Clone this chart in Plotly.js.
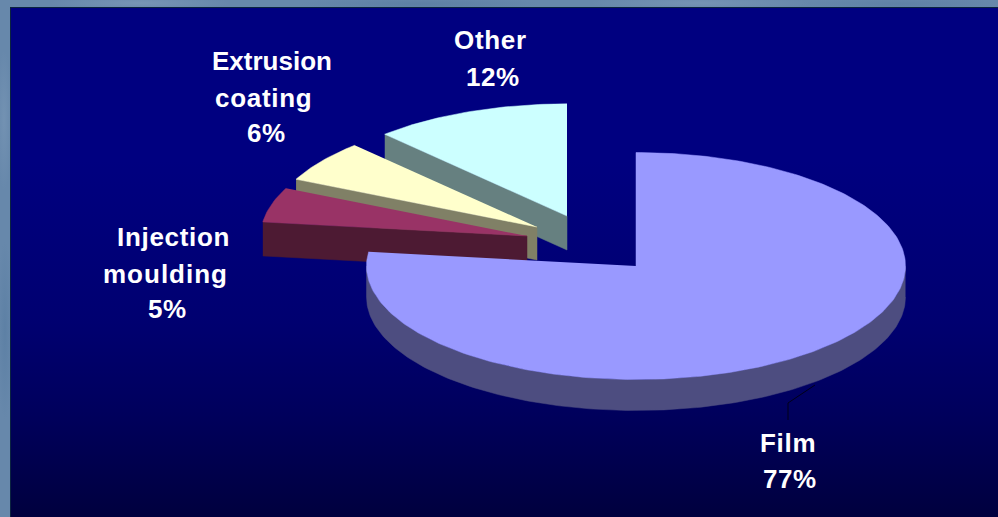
<!DOCTYPE html>
<html>
<head>
<meta charset="utf-8">
<script src="https://cdn.plot.ly/plotly-3.0.1.min.js"></script>
<style>
  html, body { margin: 0; padding: 0; width: 998px; height: 517px; overflow: hidden; }
  #slide {
    position: absolute; left: 0; top: 0; width: 998px; height: 517px;
    background:
      radial-gradient(ellipse 90px 8px at 140px 3px, rgba(150,175,200,.35), transparent),
      radial-gradient(ellipse 120px 7px at 420px 4px, rgba(70,110,150,.3), transparent),
      radial-gradient(ellipse 110px 8px at 700px 3px, rgba(150,175,200,.3), transparent),
      radial-gradient(ellipse 100px 7px at 900px 4px, rgba(70,110,150,.25), transparent),
      radial-gradient(ellipse 8px 70px at 4px 120px, rgba(150,175,200,.25), transparent),
      radial-gradient(ellipse 8px 90px at 5px 330px, rgba(70,110,150,.3), transparent),
      #6788ab;
  }
  #panel {
    position: absolute; left: 10px; top: 7px; width: 988px; height: 510px;
    box-sizing: border-box; border-left: 1px solid #0b2340; border-top: 1px solid #0b2340;
    background: linear-gradient(to bottom, #000080 0%, #000080 30%, #000070 62%, #00005c 80%, #00003e 100%);
  }
  #chart { position: absolute; left: 0; top: 0; width: 998px; height: 517px; }
</style>
</head>
<body>
<div id="slide"></div>
<div id="panel"></div>
<div id="chart"></div>
<script>
// Share of use by application, clockwise from twelve o'clock
var categories = ["Film", "Injection moulding", "Extrusion coating", "Other"];
var shares = [77, 5, 6, 12];

// Label text, one entry per printed line
var labelLines = [["Film"], ["Injection", "moulding"], ["Extrusion", "coating"], ["Other"]];

// Slice colours
var topColors = ["#9999ff", "#993366", "#ffffcc", "#ccffff"];
var wallColors = ["#4d4d80", "#4d1a33", "#808066", "#668080"];

// Projection of the tilted disc, in axis units
var centre = { x: 636, y: 266 };
var radiusX = 269.5;
var radiusY = 113.5;
var sliceShift = [[0, 0], [-109, -30], [-99, -39], [-69, -50]];
var sliceDepth = [31, 34, 33, 34];
var sliceScale = [1, 0.988, 0.988, 0.988];

// Label line centres and tracking, listed per category and then per line
var labelSpots = [
  [[788, 443], [790, 479]],
  [[173.5, 237], [165, 274], [167, 309]],
  [[271.5, 61], [263.5, 98], [266, 133]],
  [[490, 40], [493, 77]]
];
var labelTracking = [
  [0.7, 0.5],
  [0.7, 1, 0.5],
  [0, 0.7, 0.5],
  [0.7, 0.5]
];
var leaderX = [815, 788, 788];
var leaderY = [385, 403, 420];

function rimPoint(degrees, cx, cy, k) {
  var r = degrees * Math.PI / 180;
  return [cx + k * radiusX * Math.sin(r), cy - k * radiusY * Math.cos(r)];
}

function polygon(points, colour, name) {
  return {
    type: "scatter", mode: "lines", name: name,
    x: points.map(function (p) { return p[0]; }),
    y: points.map(function (p) { return p[1]; }),
    fill: "toself", fillcolor: colour,
    line: { color: colour, width: 0.5 },
    hoverinfo: "skip", showlegend: false
  };
}

function arc(from, to, cx, cy, k, dy) {
  var pts = [], step = to >= from ? 1 : -1;
  for (var a = from; step > 0 ? a < to : a > to; a += step) {
    var p = rimPoint(a, cx, cy, k);
    pts.push([p[0], p[1] + dy]);
  }
  var q = rimPoint(to, cx, cy, k);
  pts.push([q[0], q[1] + dy]);
  return pts;
}

var total = shares.reduce(function (s, v) { return s + v; }, 0);
var edges = [0];
shares.forEach(function (v, i) { edges.push(edges[i] + v / total * 360); });

var backToFront = [3, 2, 1, 0];
var traces = [];
backToFront.forEach(function (i) {
  var cx = centre.x + sliceShift[i][0];
  var cy = centre.y + sliceShift[i][1];
  var d = sliceDepth[i];
  var k = sliceScale[i];
  var start = edges[i], end = edges[i + 1];
  if (i === 0) {
    // The large slice shows its curved rim along the front of the disc
    var rim = arc(90, 270, cx, cy, k, 0).concat(arc(270, 90, cx, cy, k, d));
    traces.push(polygon(rim, wallColors[i], categories[i] + " rim"));
  } else {
    // Exploded slices show the cut face below their leading edge
    var p = rimPoint(start, cx, cy, k);
    var wall = [p, [cx, cy], [cx, cy + d], [p[0], p[1] + d]];
    traces.push(polygon(wall, wallColors[i], categories[i] + " wall"));
  }
  var face = [[cx, cy]].concat(arc(start, end, cx, cy, k, 0));
  traces.push(polygon(face, topColors[i], categories[i]));
});

traces.push({
  type: "scatter", mode: "lines", x: leaderX, y: leaderY,
  line: { color: "#000018", width: 1 }, hoverinfo: "skip", showlegend: false
});

var annotations = [];
categories.forEach(function (c, i) {
  var lines = labelLines[i].concat([shares[i] + "%"]);
  lines.forEach(function (t, k) {
    annotations.push({
      x: labelSpots[i][k][0], y: labelSpots[i][k][1],
      xref: "x", yref: "y",
      text: '<span style="letter-spacing:' + labelTracking[i][k] + 'px"><b>' + t + "</b></span>",
      showarrow: false, xanchor: "center", yanchor: "middle",
      font: { family: "Liberation Sans, Arial, sans-serif", size: 26, color: "#ffffff" }
    });
  });
});

var hiddenAxis = { visible: false, fixedrange: true, showgrid: false, zeroline: false };
Plotly.newPlot("chart", traces, {
  width: 998, height: 517,
  margin: { l: 0, r: 0, t: 0, b: 0 },
  paper_bgcolor: "rgba(0,0,0,0)", plot_bgcolor: "rgba(0,0,0,0)",
  xaxis: Object.assign({ range: [0, 998] }, hiddenAxis),
  yaxis: Object.assign({ range: [517, 0] }, hiddenAxis),
  annotations: annotations,
  showlegend: false
}, { displayModeBar: false, staticPlot: true });
</script>
</body>
</html>
